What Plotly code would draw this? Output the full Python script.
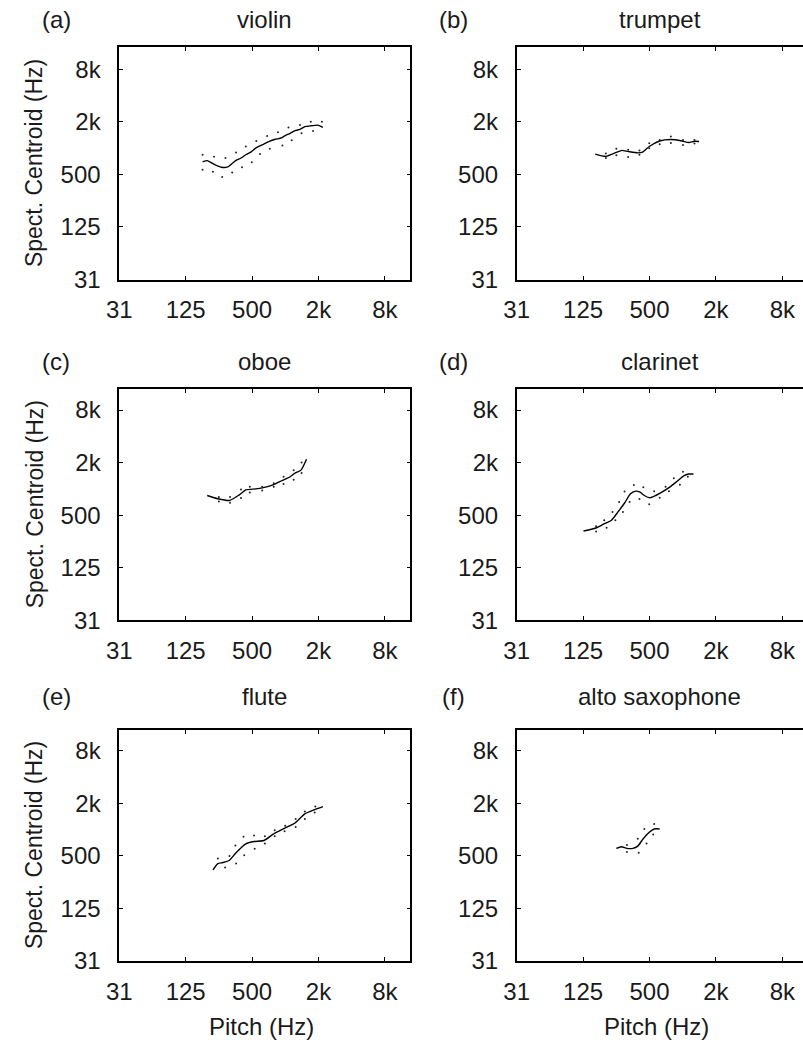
import math
import plotly.graph_objects as go

# ---------------- data (Hz) ----------------
panel_labels = ["(a)", "(b)", "(c)", "(d)", "(e)", "(f)"]
instruments = ["violin", "trumpet", "oboe", "clarinet", "flute", "alto saxophone"]

tick_vals = [31.25, 125, 500, 2000, 8000]
tick_text = ["31", "125", "500", "2k", "8k"]

# violin
violin_pitch = [178, 196, 229, 263, 301, 334, 358, 397, 439, 487, 540, 618, 709, 813, 901, 999, 1107, 1227, 1360, 1506, 1726, 1980, 2194]
violin_centroid = [695, 719, 647, 605, 610, 677, 726, 771, 840, 901, 1000, 1090, 1191, 1264, 1298, 1392, 1479, 1586, 1641, 1761, 1806, 1836, 1728]
violin_hi_pitch = [178, 226, 287, 358, 439, 546, 685, 858, 1069, 1360, 1704, 2150]
violin_hi_centroid = [840, 797, 771, 894, 1045, 1209, 1378, 1518, 1728, 1836, 2006, 2006]
violin_lo_pitch = [178, 221, 268, 330, 405, 497, 590, 724, 942, 1144, 1405, 1787]
violin_lo_centroid = [564, 535, 466, 525, 605, 689, 855, 982, 1073, 1233, 1479, 1570]

# trumpet
trumpet_pitch = [161, 201, 250, 281, 318, 391, 433, 497, 618, 774, 985, 1130, 1278, 1405]
trumpet_centroid = [855, 806, 894, 942, 918, 883, 901, 1045, 1209, 1255, 1209, 1160, 1201, 1191]
trumpet_hi_pitch = [201, 250, 320, 405, 497, 618, 781, 1005, 1278]
trumpet_hi_centroid = [869, 982, 957, 942, 1140, 1242, 1357, 1242, 1242]
trumpet_lo_pitch = [201, 250, 320, 405, 497, 618, 781, 1005, 1278]
trumpet_lo_centroid = [771, 827, 791, 840, 1000, 1110, 1148, 1090, 1131]

# oboe
oboe_pitch = [196, 245, 312, 383, 439, 540, 618, 786, 932, 1107, 1227, 1388, 1558]
oboe_centroid = [840, 771, 737, 855, 974, 1000, 1027, 1119, 1242, 1378, 1518, 1641, 2187]
oboe_hi_pitch = [250, 316, 397, 477, 618, 786, 965, 1192, 1405]
oboe_hi_centroid = [806, 806, 982, 1062, 1062, 1160, 1378, 1641, 2006]
oboe_lo_pitch = [250, 316, 397, 477, 618, 786, 965, 1192, 1405]
oboe_lo_centroid = [719, 695, 785, 909, 957, 1062, 1140, 1275, 1518]

# clarinet
clarinet_pitch = [126, 166, 190, 226, 259, 297, 336, 377, 410, 449, 503, 569, 653, 774, 889, 1020, 1130, 1252]
clarinet_centroid = [329, 359, 392, 438, 545, 689, 878, 942, 918, 840, 791, 840, 925, 1062, 1222, 1414, 1479, 1479]
clarinet_hi_pitch = [164, 194, 231, 265, 297, 360, 439, 551, 699, 830, 1005]
clarinet_hi_centroid = [374, 438, 545, 707, 932, 1110, 1045, 942, 1062, 1322, 1570]
clarinet_lo_pitch = [164, 204, 245, 287, 330, 405, 497, 618, 750, 942, 1114]
clarinet_lo_centroid = [326, 359, 438, 545, 707, 765, 665, 791, 942, 1119, 1378]

# flute
flute_pitch = [221, 245, 272, 312, 358, 439, 521, 640, 786, 999, 1227, 1506, 1824, 2194]
flute_centroid = [346, 409, 420, 446, 545, 689, 732, 751, 894, 1045, 1191, 1518, 1684, 1836]
flute_hi_pitch = [245, 312, 353, 418, 521, 653, 802, 999, 1243, 1506, 1873]
flute_hi_centroid = [466, 499, 659, 827, 855, 840, 982, 1110, 1322, 1612, 1836]
flute_lo_pitch = [285, 358, 424, 528, 653, 802, 985, 1243, 1506, 1849]
flute_lo_centroid = [369, 409, 508, 605, 695, 840, 957, 1073, 1322, 1570]

# alto saxophone
sax_pitch = [250, 278, 312, 353, 391, 433, 497, 551, 618]
sax_centroid = [610, 637, 610, 610, 647, 771, 932, 1018, 1018]
sax_hi_pitch = [312, 391, 449, 551]
sax_hi_centroid = [665, 785, 1018, 1160]
sax_lo_pitch = [312, 399, 470, 540]
sax_lo_centroid = [554, 545, 695, 878]

panels = [
    (violin_pitch, violin_centroid, violin_hi_pitch, violin_hi_centroid, violin_lo_pitch, violin_lo_centroid),
    (trumpet_pitch, trumpet_centroid, trumpet_hi_pitch, trumpet_hi_centroid, trumpet_lo_pitch, trumpet_lo_centroid),
    (oboe_pitch, oboe_centroid, oboe_hi_pitch, oboe_hi_centroid, oboe_lo_pitch, oboe_lo_centroid),
    (clarinet_pitch, clarinet_centroid, clarinet_hi_pitch, clarinet_hi_centroid, clarinet_lo_pitch, clarinet_lo_centroid),
    (flute_pitch, flute_centroid, flute_hi_pitch, flute_hi_centroid, flute_lo_pitch, flute_lo_centroid),
    (sax_pitch, sax_centroid, sax_hi_pitch, sax_hi_centroid, sax_lo_pitch, sax_lo_centroid),
]

# ---------------- layout geometry (pixels) ----------------
W, H = 803, 1055
col_left = [108, 512]
col_right = [404, 803]
row_top = [48, 394, 739]
row_bottom = [283, 628, 973]
title_y = [20, 366, 705]
px_per_oct_x = 33.75
px_per_oct_y = 26.6
lo = math.log10(31.25)

FONT = "Liberation Sans, Arial, Helvetica, sans-serif"
TXT = "#1a1a1a"
FS = 24

fig = go.Figure()
layout = dict(
    width=W, height=H, margin=dict(l=0, r=0, t=0, b=0),
    paper_bgcolor="white", plot_bgcolor="white", showlegend=False,
    font=dict(family=FONT, size=FS, color=TXT),
)
annotations = []

for i, (px, py, hx, hy, lx, ly) in enumerate(panels):
    r, c = divmod(i, 2)
    n = "" if i == 0 else str(i + 1)
    xa, ya = "x" + n, "y" + n
    for xs, ys, mode in [(px, py, "lines"), (hx, hy, "markers"), (lx, ly, "markers")]:
        fig.add_trace(go.Scatter(
            x=xs, y=ys, mode=mode, xaxis=xa, yaxis=ya,
            line=dict(color="black", width=1.4, shape="spline", smoothing=0.6),
            marker=dict(color="#222222", size=2.0),
            hoverinfo="skip",
        ))
    x0, x1 = col_left[c], col_right[c]
    y0, y1 = row_top[r], row_bottom[r]
    xr = [lo, lo + (x1 - x0) / px_per_oct_x * math.log10(2)]
    yr = [lo, lo + (y1 - y0) / px_per_oct_y * math.log10(2)]
    common = dict(
        type="log", showgrid=False, zeroline=False, showline=True,
        linecolor="black", linewidth=1.6, ticks="inside", ticklen=4,
        tickwidth=1, tickcolor="black", tickvals=tick_vals, ticktext=tick_text,
        tickfont=dict(family=FONT, size=FS, color=TXT),
    )
    layout["xaxis" + n] = dict(
        common, domain=[x0 / W, x1 / W], range=xr, anchor=ya,
        mirror="allticks", ticklabelstandoff=8,
    )
    layout["yaxis" + n] = dict(
        common, domain=[1 - y1 / H, 1 - y0 / H], range=yr, anchor=xa,
        mirror="allticks" if c == 0 else False, ticklabelstandoff=12,
    )
    cx = (x0 + min(x1, 808)) / 2
    annotations.append(dict(
        text=instruments[i], x=cx / W, y=1 - title_y[r] / H, xref="paper", yref="paper",
        xanchor="center", yanchor="middle", showarrow=False,
        font=dict(family=FONT, size=FS, color=TXT)))
    annotations.append(dict(
        text=panel_labels[i], x=(x0 - 64) / W, y=1 - title_y[r] / H, xref="paper", yref="paper",
        xanchor="center", yanchor="middle", showarrow=False,
        font=dict(family=FONT, size=FS, color=TXT)))
    if c == 0:
        annotations.append(dict(
            text="Spect. Centroid (Hz)", x=22 / W, y=1 - (y0 + y1) / 2 / H,
            xref="paper", yref="paper", xanchor="center", yanchor="middle",
            textangle=-90, showarrow=False, font=dict(family=FONT, size=23, color=TXT)))
    if r == 2:
        annotations.append(dict(
            text="Pitch (Hz)", x=(cx - 3) / W, y=1 - 1039 / H,
            xref="paper", yref="paper", xanchor="center", yanchor="middle",
            showarrow=False, font=dict(family=FONT, size=FS, color=TXT)))

layout["annotations"] = annotations
fig.update_layout(**layout)
fig.write_html("out.html")
